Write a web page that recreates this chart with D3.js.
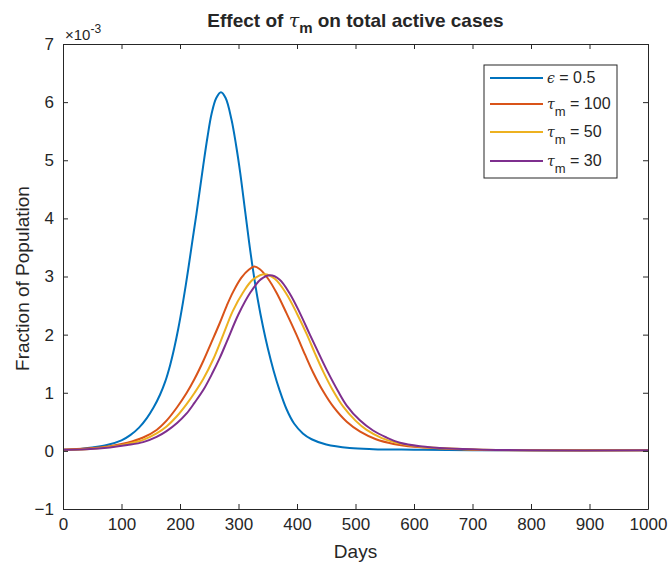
<!DOCTYPE html>
<html><head><meta charset="utf-8">
<script src="https://cdn.jsdelivr.net/npm/d3@7"></script>
<style>body{margin:0;background:#fff;} text{font-family:"Liberation Sans",Arial,sans-serif;fill:#262626;}</style>
</head><body><svg id="c" width="668" height="563"></svg>
<script>
// values in units of 1e-3
const days_eps05 = [0,25,50,75,100,115,130,143,155,166,175,183,190,197,205,214,221,228,240,247,254,262,270,278,288,296,303,311,318,325,333,342,350,360,370,382,395,410,425,450,490,530,600,700,1000];
const vals_eps05 = [0.02,0.03,0.06,0.1,0.18,0.27,0.4,0.56,0.75,0.97,1.2,1.47,1.76,2.1,2.55,3.12,3.6,4.07,4.93,5.4,5.8,6.07,6.17,6.07,5.7,5.25,4.78,4.15,3.6,3.1,2.6,2.13,1.77,1.38,1.05,0.72,0.47,0.3,0.2,0.11,0.05,0.03,0.02,0.01,0.01];
const days_tau100 = [0,40,80,110,137,160,177,195,211,225,240,253,268,280,291,305,318,327,336,350,365,382,399,414,428,445,462,485,508,535,565,600,650,700,800,1000];
const vals_tau100 = [0.02,0.04,0.08,0.14,0.23,0.36,0.52,0.75,0.99,1.24,1.55,1.85,2.2,2.5,2.74,2.98,3.12,3.17,3.13,2.97,2.72,2.37,2.0,1.65,1.34,1.02,0.76,0.5,0.33,0.2,0.12,0.07,0.04,0.02,0.01,0.01];
const days_tau50 = [0,40,80,110,137,160,177,195,211,225,240,257,274,290,308,325,345,362,382,400,417,431,445,462,479,500,519,545,570,610,660,720,800,1000];
const vals_tau50 = [0.02,0.03,0.07,0.12,0.19,0.3,0.42,0.6,0.8,1.0,1.24,1.58,2.0,2.4,2.73,2.95,3.04,2.96,2.7,2.36,2.0,1.67,1.36,1.03,0.76,0.52,0.36,0.22,0.14,0.07,0.04,0.02,0.01,0.01];
const days_tau30 = [0,40,80,110,137,160,177,195,211,225,240,255,268,280,300,320,338,354,370,388,405,422,438,453,470,485,507,530,553,576,610,660,720,800,1000];
const vals_tau30 = [0.02,0.03,0.06,0.1,0.15,0.24,0.34,0.48,0.64,0.83,1.05,1.33,1.6,1.88,2.35,2.72,2.95,3.02,2.95,2.7,2.37,2.0,1.66,1.35,1.03,0.78,0.53,0.35,0.23,0.14,0.08,0.04,0.02,0.01,0.01];
const xTicks = [0,100,200,300,400,500,600,700,800,900,1000];
const yTicks = [-1,0,1,2,3,4,5,6,7];
const seriesColors = ["#0072BD","#D95319","#EDB120","#7E2F8E"];
const legendSym = ["ϵ","τ","τ","τ"];
const legendSub = ["","m","m","m"];
const legendVal = [" = 0.5"," = 100"," = 50"," = 30"];

const series = [
  {d:days_eps05, v:vals_eps05},
  {d:days_tau100, v:vals_tau100},
  {d:days_tau50, v:vals_tau50},
  {d:days_tau30, v:vals_tau30}
];

const svg = d3.select("#c");
const L=63, R=648, T=44, B=509;
const x = d3.scaleLinear().domain([0,1000]).range([L,R]);
const y = d3.scaleLinear().domain([-1,7]).range([B,T]);

svg.append("clipPath").attr("id","cp").append("rect").attr("x",L).attr("y",T).attr("width",R-L).attr("height",B-T);

const line = d3.line().x(p=>x(p[0])).y(p=>y(p[1])).curve(d3.curveCatmullRom.alpha(0.5));
const g = svg.append("g").attr("clip-path","url(#cp)");
series.forEach((s,i)=>{
  g.append("path").datum(s.d.map((d,j)=>[d,s.v[j]]))
   .attr("d",line).attr("fill","none").attr("stroke",seriesColors[i]).attr("stroke-width",2);
});

// axes
const axCol="#262626";
function styleAxis(sel){
  sel.select(".domain").attr("stroke",axCol).attr("stroke-width",1);
  sel.selectAll(".tick line").attr("stroke",axCol);
  sel.selectAll(".tick text").style("font-size","17px").attr("fill",axCol).style("font-family","Liberation Sans, Arial, sans-serif");
}
const xb = svg.append("g").attr("transform",`translate(0,${B})`)
  .call(d3.axisBottom(x).tickValues(xTicks).tickFormat(d3.format("d")).tickSizeInner(-5).tickSizeOuter(0).tickPadding(9));
styleAxis(xb);
const xt = svg.append("g").attr("transform",`translate(0,${T})`)
  .call(d3.axisTop(x).tickValues(xTicks).tickFormat("").tickSizeInner(-5).tickSizeOuter(0));
styleAxis(xt);
const yl = svg.append("g").attr("transform",`translate(${L},0)`)
  .call(d3.axisLeft(y).tickValues(yTicks).tickFormat(d3.format("d")).tickSizeInner(-5).tickSizeOuter(0).tickPadding(9));
styleAxis(yl);
const yr = svg.append("g").attr("transform",`translate(${R},0)`)
  .call(d3.axisRight(y).tickValues(yTicks).tickFormat("").tickSizeInner(-5).tickSizeOuter(0));
styleAxis(yr);

// exponent label
const ex = svg.append("text").attr("x",L+2).attr("y",T-4).style("font-size","15px");
ex.append("tspan").text("×10");
ex.append("tspan").attr("dy",-7).style("font-size","12px").text("-3");

// title
const tt = svg.append("text").attr("x",(L+R)/2).attr("y",27).attr("text-anchor","middle")
  .style("font-size","19px").style("font-weight","bold");
tt.append("tspan").text("Effect of ");
tt.append("tspan").style("font-style","italic").style("font-weight","normal").style("font-family","DejaVu Serif, serif").text("τ");
tt.append("tspan").attr("dy",6).style("font-size","15px").text("m");
tt.append("tspan").attr("dy",-6).text(" on total active cases");

// axis labels
svg.append("text").attr("x",(L+R)/2).attr("y",558).attr("text-anchor","middle").style("font-size","19px").text("Days");
svg.append("text").attr("transform",`translate(29,${(T+B)/2+2}) rotate(-90)`).attr("text-anchor","middle").style("font-size","19px").text("Fraction of Population");

// legend
const lg = svg.append("g");
lg.append("rect").attr("x",484).attr("y",65).attr("width",133).attr("height",113).attr("fill","#fff").attr("stroke",axCol).attr("stroke-width",1);
const rows=[78,104,132,161];
seriesColors.forEach((c,i)=>{
  lg.append("line").attr("x1",490).attr("x2",543).attr("y1",rows[i]).attr("y2",rows[i]).attr("stroke",c).attr("stroke-width",2);
  const t = lg.append("text").attr("x",547).attr("y",rows[i]+5).style("font-size","16px");
  t.append("tspan").style("font-style","italic").style("font-family","DejaVu Serif, serif").style("font-size","14px").text(legendSym[i]);
  if(legendSub[i]){
    t.append("tspan").attr("dy",7).style("font-size","13px").text(legendSub[i]);
    t.append("tspan").attr("dy",-7).text(legendVal[i]);
  } else t.append("tspan").text(legendVal[i]);
});
</script></body></html>
